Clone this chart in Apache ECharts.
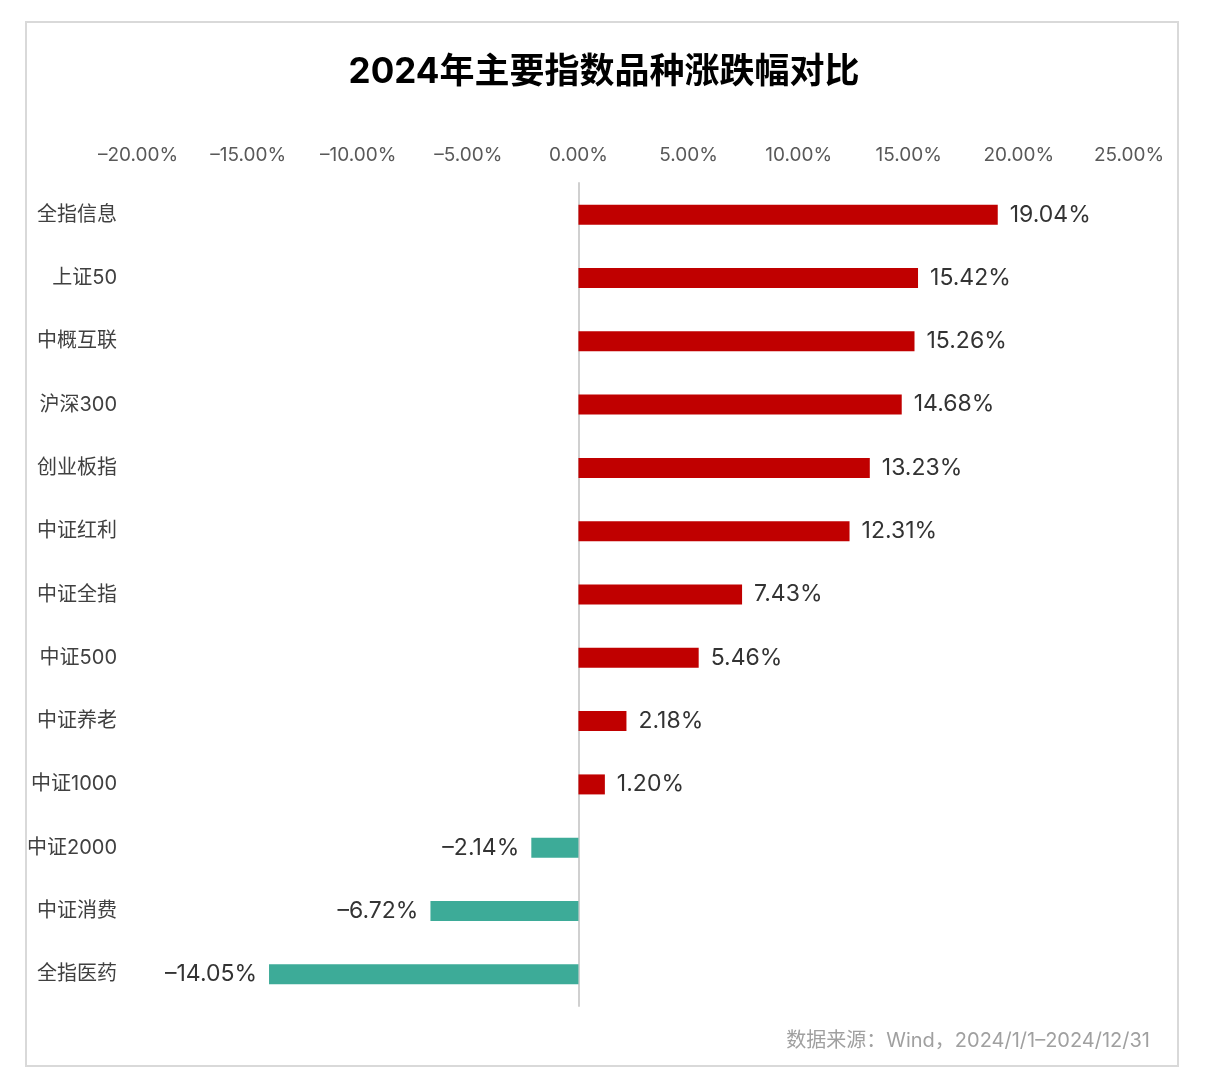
<!DOCTYPE html>
<html><head><meta charset="utf-8">
<script src="https://cdn.jsdelivr.net/npm/echarts@6/dist/echarts.min.js"></script>
<style>html,body{margin:0;padding:0;background:#fff;}#c{width:1208px;height:1092px;}</style>
</head><body><div id="c"></div>
<script>
const categories = ['全指信息','上证50','中概互联','沪深300','创业板指','中证红利','中证全指','中证500','中证养老','中证1000','中证2000','中证消费','全指医药'];
const values = [19.04, 15.42, 15.26, 14.68, 13.23, 12.31, 7.43, 5.46, 2.18, 1.20, -2.14, -6.72, -14.05];
const axisMin = -20, axisMax = 25, axisStep = 5;
const titleText = '2024年主要指数品种涨跌幅对比';
const sourceText = '数据来源：Wind，2024/1/1–2024/12/31';

const fmt = v => (v < 0 ? '–' : '') + Math.abs(v).toFixed(2) + '%';
const FONT = 'Inter, "Noto Sans CJK SC", sans-serif';
const chart = echarts.init(document.getElementById('c'));
chart.setOption({
  backgroundColor: '#fff',
  animation: false,
  title: { text: titleText, left: 'center', top: 50, textStyle: { fontFamily: FONT, fontSize: 35, fontWeight: 'bold', color: '#000' } },
  graphic: [
    { type: 'rect', shape: { x: 26, y: 22, width: 1152, height: 1044 }, style: { fill: 'none', stroke: '#d9d9d9', lineWidth: 2 }, silent: true },
    { type: 'text', right: 58, top: 1031, style: { text: sourceText, font: '20px ' + FONT, fill: '#a0a0a0' } }
  ],
  grid: { left: 138, right: 79, top: 183, bottom: 86 },
  xAxis: {
    type: 'value', position: 'top', min: axisMin, max: axisMax, interval: axisStep,
    axisLine: { show: false }, axisTick: { show: false }, splitLine: { show: false },
    axisLabel: { margin: 18, formatter: v => fmt(v), fontFamily: FONT, fontSize: 19, color: '#595959' }
  },
  yAxis: {
    type: 'category', data: categories, inverse: true,
    axisLine: { show: true, onZero: true, lineStyle: { color: '#d0d0d0', width: 2 } },
    axisTick: { show: false },
    axisLabel: { margin: 21, padding: [4, 0, 0, 0], fontFamily: FONT, fontSize: 20, color: '#404040' }
  },
  series: [{
    type: 'bar', barWidth: 20,
    data: values.map(v => ({ value: v, itemStyle: { color: v >= 0 ? '#c00000' : '#3dab98' },
      label: { position: v >= 0 ? 'right' : 'left' } })),
    label: { show: true, distance: 12, padding: [4, 0, 0, 0], formatter: p => fmt(p.value), fontFamily: FONT, fontSize: 23, color: '#333' }
  }]
});
</script></body></html>
